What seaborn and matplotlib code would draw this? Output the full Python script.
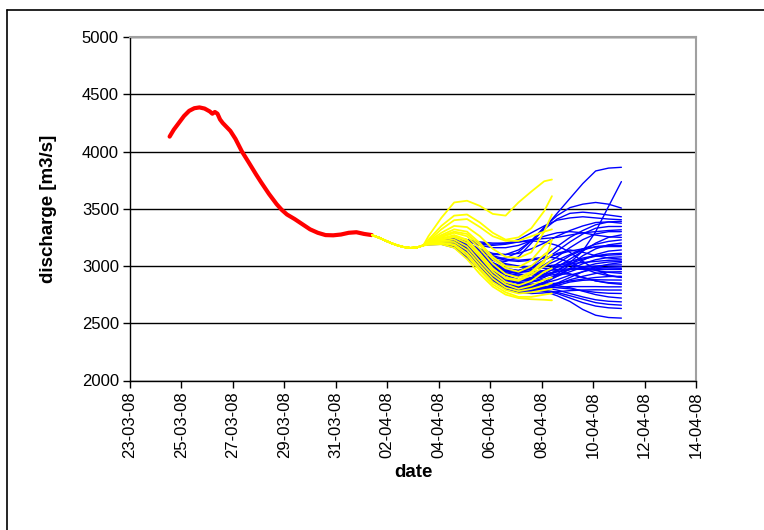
import numpy as np
import pandas as pd
import matplotlib
matplotlib.use("Agg")
import matplotlib.pyplot as plt
import matplotlib.dates as mdates
from matplotlib.lines import Line2D
import seaborn as sns

# time axis: days after 23-03-2008 00:00
START = pd.Timestamp("2008-03-23")

# observed discharge (red)
obs_days = [1.54, 1.7, 1.9, 2.1, 2.3, 2.5, 2.7, 2.9, 3.1, 3.2, 3.3, 3.4, 3.5,
            3.6, 3.9, 4.1, 4.35, 4.6, 4.9, 5.1, 5.4, 5.7, 5.9, 6.1, 6.4, 6.7,
            7.0, 7.3, 7.6, 7.9, 8.2, 8.5, 8.8, 9.1, 9.4]
obs_q = [4130, 4190, 4250, 4310, 4355, 4378, 4385, 4375, 4350, 4330, 4345,
         4330, 4280, 4250, 4180, 4110, 4000, 3910, 3800, 3730, 3630, 3540,
         3490, 3450, 3410, 3365, 3320, 3290, 3270, 3268, 3275, 3290, 3295,
         3280, 3270]

# common start of the forecasts
lead_days = [9.4, 9.65, 9.9, 10.15, 10.4, 10.65, 10.9, 11.15, 11.4]
lead_q = [3270, 3250, 3225, 3200, 3180, 3165, 3158, 3162, 3180]

# yellow ensemble
yellow_days = [11.6, 12.1, 12.6, 13.1, 13.6, 14.1, 14.6, 15.1, 15.6, 16.1, 16.4]
yellow_members = [
    [3260, 3420, 3555, 3570, 3525, 3455, 3440, 3555, 3650, 3740, 3755],
    [3230, 3350, 3440, 3450, 3380, 3290, 3230, 3250, 3330, 3480, 3610],
    [3220, 3320, 3400, 3410, 3340, 3260, 3220, 3220, 3260, 3300, 3320],
    [3215, 3290, 3350, 3340, 3260, 3150, 3080, 3070, 3120, 3300, 3450],
    [3210, 3270, 3320, 3300, 3200, 3080, 3000, 2990, 3050, 3180, 3230],
    [3205, 3250, 3290, 3260, 3150, 3020, 2930, 2900, 2950, 3050, 3100],
    [3200, 3240, 3270, 3230, 3110, 2980, 2890, 2870, 2920, 3000, 3050],
    [3200, 3230, 3250, 3200, 3080, 2950, 2860, 2830, 2870, 2950, 2980],
    [3195, 3220, 3230, 3170, 3040, 2920, 2840, 2800, 2830, 2880, 2900],
    [3195, 3210, 3210, 3140, 3010, 2890, 2810, 2780, 2800, 2830, 2850],
    [3190, 3200, 3190, 3110, 2980, 2860, 2790, 2760, 2770, 2790, 2800],
    [3190, 3200, 3180, 3090, 2960, 2840, 2770, 2730, 2730, 2750, 2760],
    [3185, 3190, 3160, 3060, 2930, 2820, 2750, 2720, 2710, 2705, 2700],
    [3200, 3260, 3300, 3280, 3180, 3060, 2980, 2950, 3000, 3100, 3150],
    [3195, 3230, 3260, 3220, 3100, 2970, 2900, 2880, 2940, 3030, 3230],
]

# blue ensemble
blue_days = [11.6, 12.1, 12.6, 13.1, 13.6, 14.1, 14.6, 15.1, 15.6, 16.1,
             16.6, 17.1, 17.6, 18.1, 18.6, 19.1]
blue_members = [
    [3210, 3240, 3230, 3180, 3100, 3050, 3040, 3080, 3200, 3330, 3460, 3590, 3720, 3830, 3855, 3862],
    [3200, 3220, 3200, 3130, 3030, 2950, 2900, 2880, 2890, 2920, 2960, 3030, 3130, 3300, 3520, 3737],
    [3205, 3230, 3220, 3170, 3100, 3060, 3070, 3120, 3220, 3340, 3440, 3510, 3540, 3555, 3540, 3506],
    [3210, 3240, 3250, 3230, 3200, 3190, 3200, 3230, 3290, 3350, 3400, 3420, 3430, 3420, 3410, 3404],
    [3205, 3230, 3230, 3200, 3150, 3110, 3100, 3110, 3150, 3200, 3260, 3310, 3350, 3380, 3385, 3374],
    [3200, 3220, 3210, 3160, 3080, 3000, 2950, 2940, 2980, 3050, 3130, 3210, 3280, 3330, 3345, 3345],
    [3210, 3235, 3240, 3220, 3190, 3180, 3190, 3210, 3230, 3240, 3250, 3270, 3290, 3300, 3310, 3316],
    [3200, 3215, 3200, 3140, 3050, 2960, 2900, 2880, 2890, 2930, 2990, 3060, 3130, 3200, 3250, 3272],
    [3205, 3225, 3215, 3170, 3100, 3030, 2980, 2960, 2970, 3000, 3050, 3100, 3150, 3190, 3215, 3228],
    [3195, 3210, 3190, 3120, 3020, 2920, 2850, 2810, 2820, 2860, 2930, 3010, 3090, 3150, 3185, 3200],
    [3200, 3220, 3215, 3180, 3130, 3080, 3050, 3040, 3050, 3070, 3100, 3130, 3150, 3165, 3170, 3170],
    [3195, 3205, 3180, 3100, 2990, 2890, 2830, 2800, 2810, 2850, 2910, 2980, 3050, 3100, 3130, 3140],
    [3200, 3215, 3200, 3150, 3070, 2990, 2940, 2920, 2930, 2960, 3000, 3040, 3070, 3090, 3105, 3111],
    [3195, 3210, 3190, 3130, 3040, 2950, 2890, 2860, 2860, 2880, 2920, 2970, 3020, 3055, 3075, 3080],
    [3200, 3220, 3210, 3170, 3110, 3050, 3010, 2990, 2990, 3000, 3010, 3020, 3030, 3040, 3050, 3053],
    [3190, 3200, 3170, 3090, 2980, 2880, 2820, 2790, 2790, 2810, 2850, 2900, 2950, 2990, 3015, 3030],
    [3200, 3215, 3200, 3150, 3080, 3010, 2960, 2930, 2920, 2930, 2950, 2970, 2990, 3000, 3008, 3010],
    [3195, 3205, 3185, 3120, 3030, 2940, 2880, 2850, 2840, 2850, 2880, 2920, 2950, 2975, 2990, 2994],
    [3200, 3220, 3210, 3160, 3090, 3020, 2970, 2950, 2950, 2960, 2970, 2975, 2970, 2968, 2970, 2970],
    [3190, 3200, 3175, 3100, 3000, 2900, 2840, 2810, 2800, 2810, 2840, 2880, 2910, 2935, 2948, 2950],
    [3195, 3210, 3195, 3140, 3060, 2980, 2930, 2910, 2920, 2950, 2990, 3010, 2990, 2960, 2945, 2936],
    [3200, 3215, 3200, 3145, 3060, 2970, 2900, 2860, 2840, 2840, 2850, 2870, 2885, 2900, 2908, 2910],
    [3190, 3200, 3170, 3090, 2980, 2880, 2810, 2780, 2780, 2800, 2830, 2860, 2875, 2880, 2878, 2877],
    [3200, 3220, 3215, 3180, 3120, 3060, 3020, 3000, 2990, 2980, 2960, 2930, 2900, 2870, 2855, 2850],
    [3195, 3205, 3180, 3110, 3010, 2910, 2850, 2820, 2810, 2810, 2815, 2820, 2820, 2820, 2818, 2818],
    [3190, 3195, 3165, 3080, 2970, 2870, 2800, 2770, 2760, 2765, 2775, 2785, 2790, 2792, 2790, 2790],
    [3200, 3210, 3190, 3130, 3040, 2950, 2890, 2850, 2830, 2820, 2810, 2800, 2785, 2770, 2762, 2760],
    [3195, 3205, 3180, 3110, 3010, 2920, 2860, 2830, 2820, 2810, 2790, 2760, 2730, 2705, 2692, 2687],
    [3190, 3195, 3170, 3090, 2990, 2900, 2840, 2810, 2800, 2790, 2770, 2740, 2710, 2680, 2665, 2658],
    [3190, 3200, 3170, 3095, 2990, 2890, 2830, 2800, 2790, 2780, 2760, 2720, 2680, 2650, 2635, 2629],
    [3185, 3190, 3160, 3075, 2970, 2880, 2830, 2800, 2790, 2780, 2740, 2690, 2620, 2570, 2550, 2545],
    [3205, 3230, 3225, 3190, 3140, 3100, 3100, 3140, 3220, 3320, 3410, 3460, 3470, 3460, 3445, 3430],
    [3200, 3215, 3195, 3140, 3060, 2990, 2950, 2940, 2960, 3010, 3080, 3160, 3230, 3280, 3300, 3300],
    [3195, 3210, 3195, 3140, 3060, 2980, 2920, 2880, 2870, 2880, 2910, 2950, 2990, 3020, 3035, 3040],
    [3210, 3240, 3245, 3230, 3210, 3200, 3200, 3210, 3220, 3210, 3180, 3120, 3040, 2970, 2920, 2900],
    [3200, 3215, 3190, 3120, 3020, 2930, 2870, 2850, 2860, 2900, 2960, 3020, 3060, 3085, 3095, 3100],
    [3200, 3220, 3205, 3150, 3070, 3000, 2960, 2960, 3000, 3080, 3170, 3250, 3310, 3360, 3385, 3390],
    [3195, 3205, 3180, 3110, 3020, 2940, 2890, 2870, 2880, 2910, 2950, 2970, 2980, 2985, 2982, 2980],
    [3200, 3215, 3200, 3150, 3080, 3010, 2970, 2960, 2990, 3050, 3110, 3140, 3120, 3090, 3070, 3060],
    [3205, 3225, 3220, 3190, 3140, 3090, 3060, 3050, 3060, 3080, 3070, 3030, 2980, 2940, 2915, 2900],
    [3195, 3205, 3185, 3120, 3030, 2950, 2900, 2880, 2900, 2950, 3020, 3090, 3140, 3170, 3180, 3180],
    [3190, 3200, 3170, 3090, 2990, 2900, 2850, 2830, 2830, 2840, 2830, 2810, 2780, 2750, 2730, 2720],
    [3210, 3235, 3240, 3215, 3180, 3160, 3160, 3180, 3220, 3260, 3290, 3300, 3290, 3270, 3255, 3250],
    [3195, 3205, 3185, 3120, 3030, 2950, 2900, 2880, 2890, 2910, 2930, 2930, 2900, 2870, 2850, 2840],
]

y_ticks = [2000, 2500, 3000, 3500, 4000, 4500, 5000]
x_first = "2008-03-23"
x_last = "2008-04-14"


def to_dates(days):
    return START + pd.to_timedelta(np.asarray(days, dtype=float), unit="D")


def ensemble_frame(days, members):
    rows = []
    for i, vals in enumerate(members):
        d = list(lead_days) + list(days)
        q = list(lead_q) + list(vals)
        rows.append(pd.DataFrame({"date": to_dates(d), "q": q, "member": i}))
    return pd.concat(rows, ignore_index=True)


sns.set_style("white")
plt.rcParams["font.family"] = ["Liberation Sans", "DejaVu Sans"]
plt.rcParams["text.color"] = "black"
plt.rcParams["axes.labelcolor"] = "black"
plt.rcParams["xtick.color"] = "black"
plt.rcParams["ytick.color"] = "black"

fig = plt.figure(figsize=(7.64, 5.30), dpi=100)
ax = fig.add_axes([130 / 764, 1 - 380.5 / 530, 566 / 764, 343.5 / 530])

obs = pd.DataFrame({"date": to_dates(obs_days), "q": obs_q})
blue = ensemble_frame(blue_days, blue_members)
yellow = ensemble_frame(yellow_days, yellow_members)

sns.lineplot(data=obs, x="date", y="q", color="#ff0000", lw=3, ax=ax,
             estimator=None, sort=False)
sns.lineplot(data=blue, x="date", y="q", units="member", estimator=None,
             color="#0000ff", lw=1.0, ax=ax, sort=False)
sns.lineplot(data=yellow, x="date", y="q", units="member", estimator=None,
             color="#ffff00", lw=1.3, ax=ax, sort=False)

ax.set_xlim(pd.Timestamp(x_first), pd.Timestamp(x_last))
ax.set_ylim(y_ticks[0], y_ticks[-1])
ax.set_yticks(y_ticks)
ax.set_xticks(pd.date_range(x_first, x_last, freq="2D"))
ax.xaxis.set_major_formatter(mdates.DateFormatter("%d-%m-%y"))
plt.setp(ax.get_xticklabels(), rotation=90)

ax.grid(axis="y", color="black", lw=1)
ax.set_axisbelow(True)
for side in ["top", "right"]:
    ax.spines[side].set_color("#a0a0a0")
    ax.spines[side].set_linewidth(1.5)
for side in ["left", "bottom"]:
    ax.spines[side].set_color("black")
    ax.spines[side].set_linewidth(1)
ax.tick_params(axis="both", direction="out", length=5, width=1,
               color="black", labelsize=12, pad=3,
               left=True, bottom=True)

ax.set_xlabel("date", fontsize=13.5, fontweight="bold", labelpad=4)
ax.set_ylabel("discharge [m3/s]", fontsize=13.5, fontweight="bold",
              labelpad=18)

# outer chart frame
fig.add_artist(Line2D([6.5 / 764, 6.5 / 764], [0, 1 - 9.5 / 530],
                      transform=fig.transFigure, color="black", lw=1.2))
fig.add_artist(Line2D([6.5 / 764, 1], [1 - 9.5 / 530, 1 - 9.5 / 530],
                      transform=fig.transFigure, color="black", lw=1.2))

fig.savefig("out.png", dpi=100)
